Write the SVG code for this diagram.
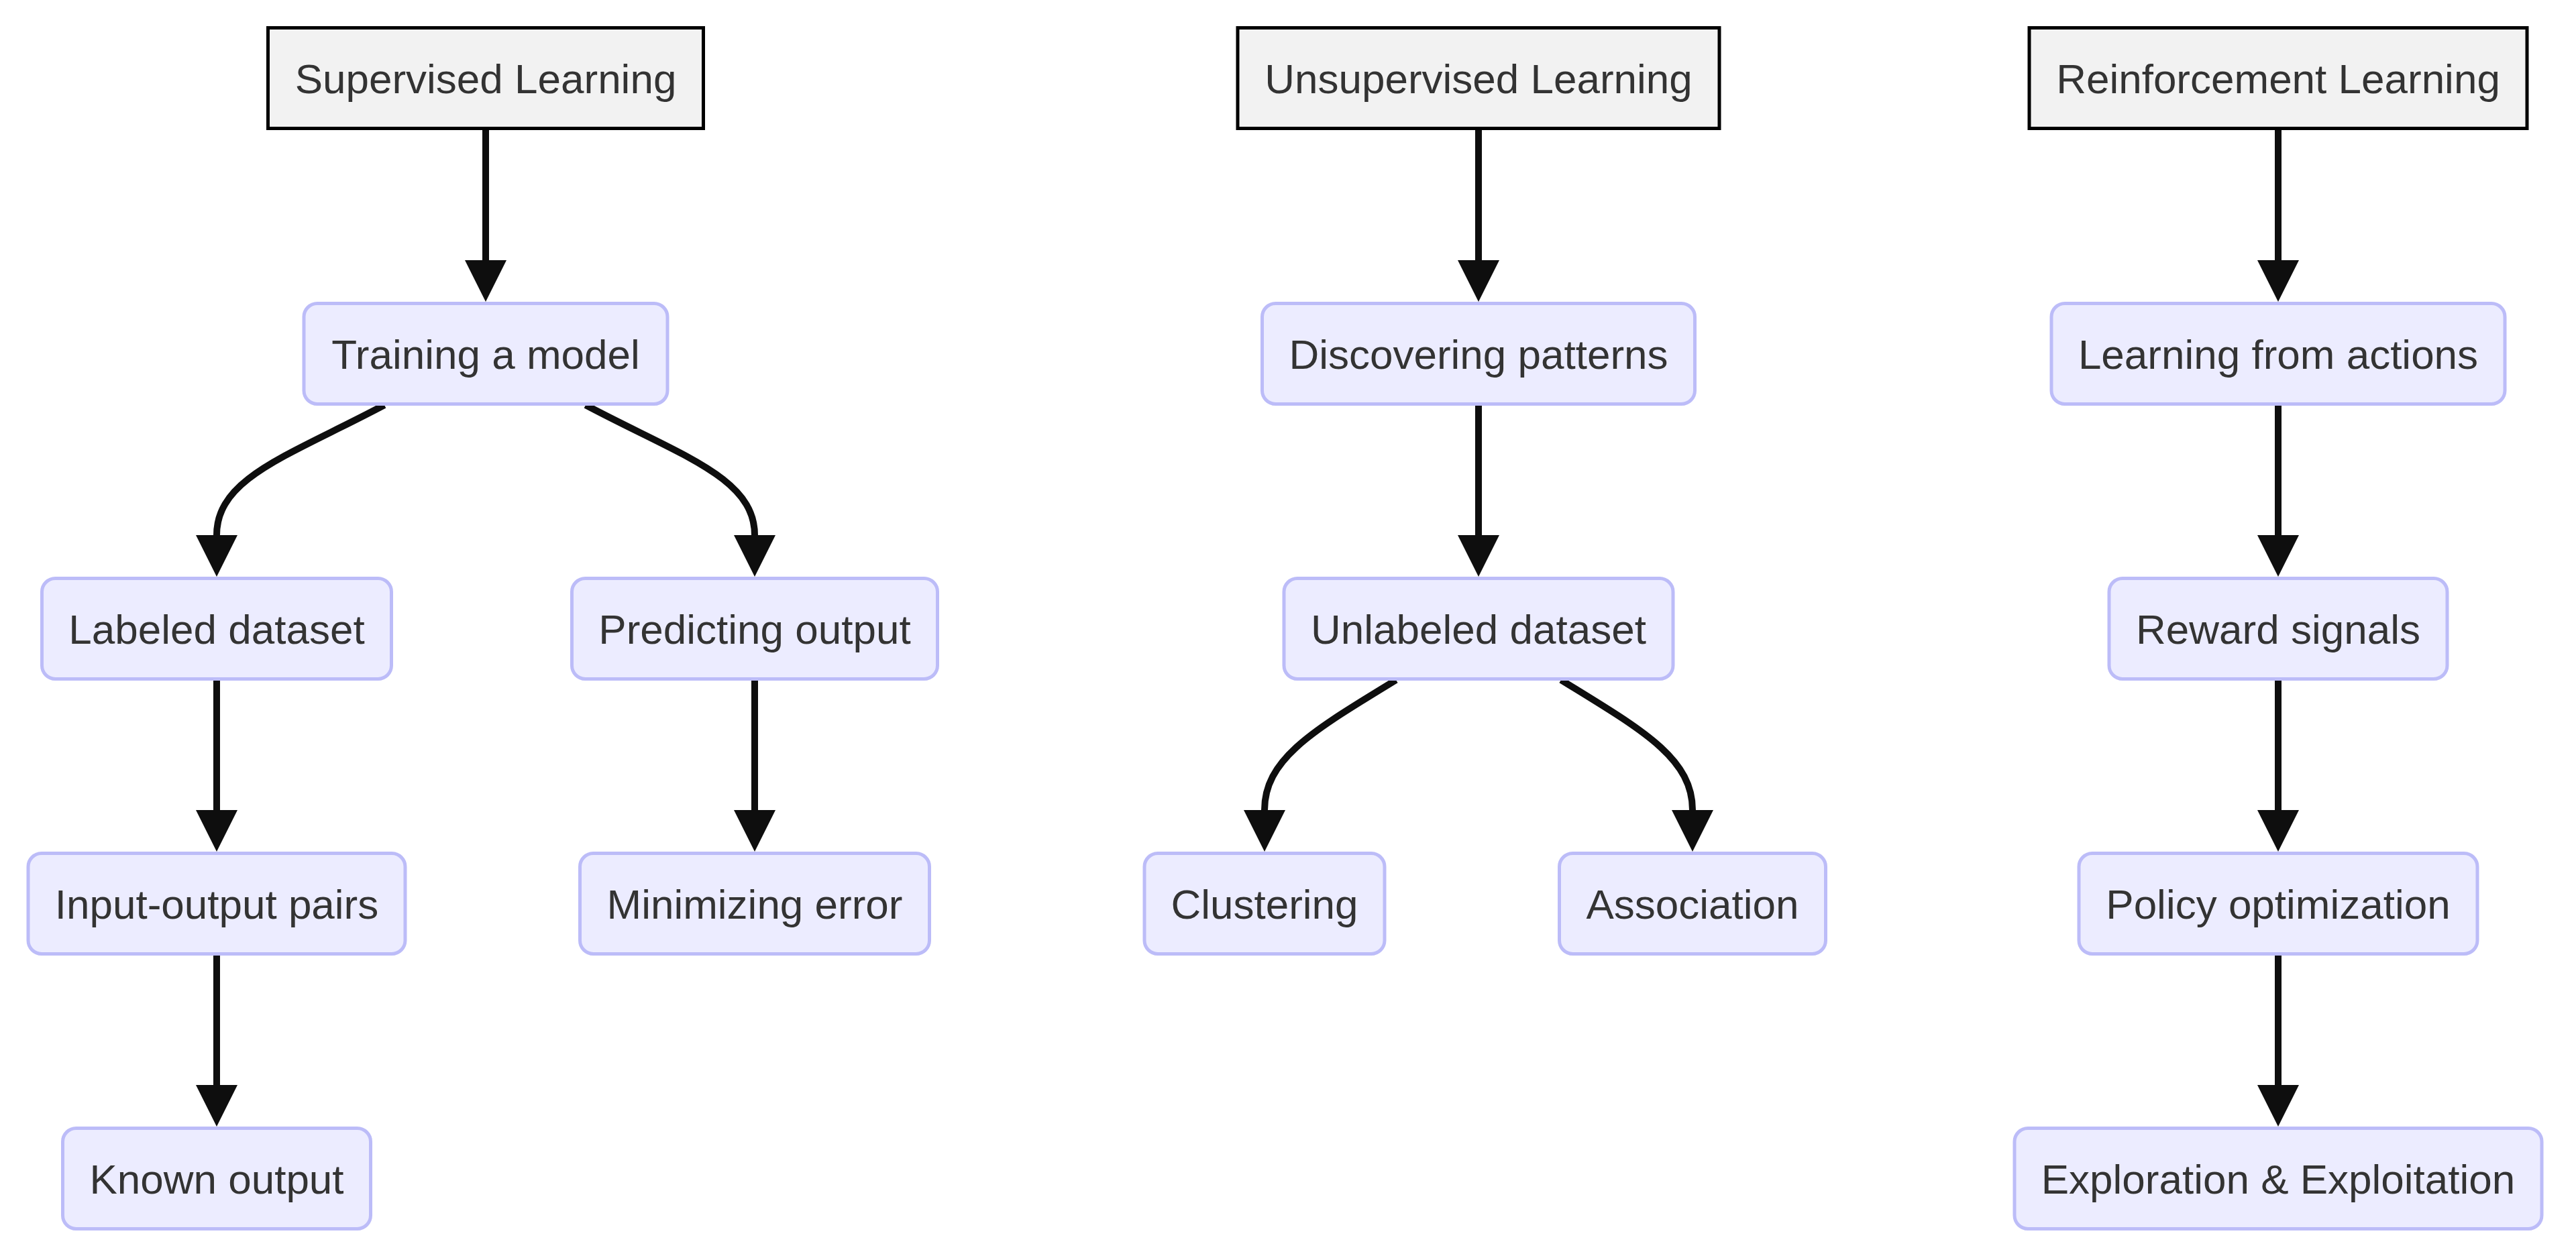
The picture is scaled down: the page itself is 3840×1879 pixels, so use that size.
<svg xmlns="http://www.w3.org/2000/svg" width="3840" height="1879" viewBox="0 0 3840 1879">
<defs>
<style>
.root rect{fill:#f2f2f2;stroke:#000;stroke-width:5}
.node rect{fill:#ECECFF;stroke:#BCBCF8;stroke-width:5}
text{font-family:"Liberation Sans",Arial,sans-serif;font-size:62px;fill:#333;text-anchor:middle}
.edge{fill:none;stroke:#0e0e0e;stroke-width:10}
</style>
<marker id="arrow" markerUnits="userSpaceOnUse" viewBox="0 0 62 62" refX="0" refY="31" markerWidth="62" markerHeight="62" orient="auto">
<path d="M0,0 L62,31 L0,62 Z" fill="#0e0e0e"/>
</marker>
</defs>
<rect width="3840" height="1879" fill="#fff"/>
<g id="connectors">
<path class="edge" d="M724,194 L724,388" marker-end="url(#arrow)"/>
<path class="edge" d="M573,604 C430,680 323,712 323,798" marker-end="url(#arrow)"/>
<path class="edge" d="M873,604 C1016,680 1125,712 1125,798" marker-end="url(#arrow)"/>
<path class="edge" d="M323,1014 L323,1208" marker-end="url(#arrow)"/>
<path class="edge" d="M1125,1014 L1125,1208" marker-end="url(#arrow)"/>
<path class="edge" d="M323,1424 L323,1618" marker-end="url(#arrow)"/>
<path class="edge" d="M2204,194 L2204,388" marker-end="url(#arrow)"/>
<path class="edge" d="M2204,604 L2204,798" marker-end="url(#arrow)"/>
<path class="edge" d="M2081,1014 C1961,1088 1885,1130 1885,1208" marker-end="url(#arrow)"/>
<path class="edge" d="M2327,1014 C2447,1088 2523,1130 2523,1208" marker-end="url(#arrow)"/>
<path class="edge" d="M3396,194 L3396,388" marker-end="url(#arrow)"/>
<path class="edge" d="M3396,604 L3396,798" marker-end="url(#arrow)"/>
<path class="edge" d="M3396,1014 L3396,1208" marker-end="url(#arrow)"/>
<path class="edge" d="M3396,1424 L3396,1618" marker-end="url(#arrow)"/>
</g>
<g id="supervised" class="root"><rect x="399.5" y="41.5" width="649" height="150"/><text x="724" y="139">Supervised Learning</text></g>
<g id="unsupervised" class="root"><rect x="1845" y="41.5" width="718" height="150"/><text x="2204" y="139">Unsupervised Learning</text></g>
<g id="reinforcement" class="root"><rect x="3025" y="41.5" width="742" height="150"/><text x="3396" y="139">Reinforcement Learning</text></g>

<g id="training" class="node"><rect x="453" y="452.5" width="542" height="150" rx="20"/><text x="724" y="549.5">Training a model</text></g>
<g id="discovering" class="node"><rect x="1881.5" y="452.5" width="645" height="150" rx="20"/><text x="2204" y="549.5">Discovering patterns</text></g>
<g id="learningactions" class="node"><rect x="3058" y="452.5" width="676" height="150" rx="20"/><text x="3396" y="549.5">Learning from actions</text></g>

<g id="labeled" class="node"><rect x="62.5" y="862.5" width="521" height="150" rx="20"/><text x="323" y="959.5">Labeled dataset</text></g>
<g id="predicting" class="node"><rect x="852.5" y="862.5" width="545" height="150" rx="20"/><text x="1125" y="959.5">Predicting output</text></g>
<g id="unlabeled" class="node"><rect x="1914" y="862.5" width="580" height="150" rx="20"/><text x="2204" y="959.5">Unlabeled dataset</text></g>
<g id="reward" class="node"><rect x="3144" y="862.5" width="504" height="150" rx="20"/><text x="3396" y="959.5">Reward signals</text></g>

<g id="inputoutput" class="node"><rect x="42" y="1272.5" width="562" height="150" rx="20"/><text x="323" y="1369.5">Input-output pairs</text></g>
<g id="minimizing" class="node"><rect x="864.5" y="1272.5" width="521" height="150" rx="20"/><text x="1125" y="1369.5">Minimizing error</text></g>
<g id="clustering" class="node"><rect x="1706" y="1272.5" width="358" height="150" rx="20"/><text x="1885" y="1369.5">Clustering</text></g>
<g id="association" class="node"><rect x="2324.5" y="1272.5" width="397" height="150" rx="20"/><text x="2523" y="1369.5">Association</text></g>
<g id="policy" class="node"><rect x="3099" y="1272.5" width="594" height="150" rx="20"/><text x="3396" y="1369.5">Policy optimization</text></g>

<g id="known" class="node"><rect x="93.5" y="1682.5" width="459" height="150" rx="20"/><text x="323" y="1779.5">Known output</text></g>
<g id="exploration" class="node"><rect x="3003" y="1682.5" width="786" height="150" rx="20"/><text x="3396" y="1779.5">Exploration &amp; Exploitation</text></g>
</svg>
